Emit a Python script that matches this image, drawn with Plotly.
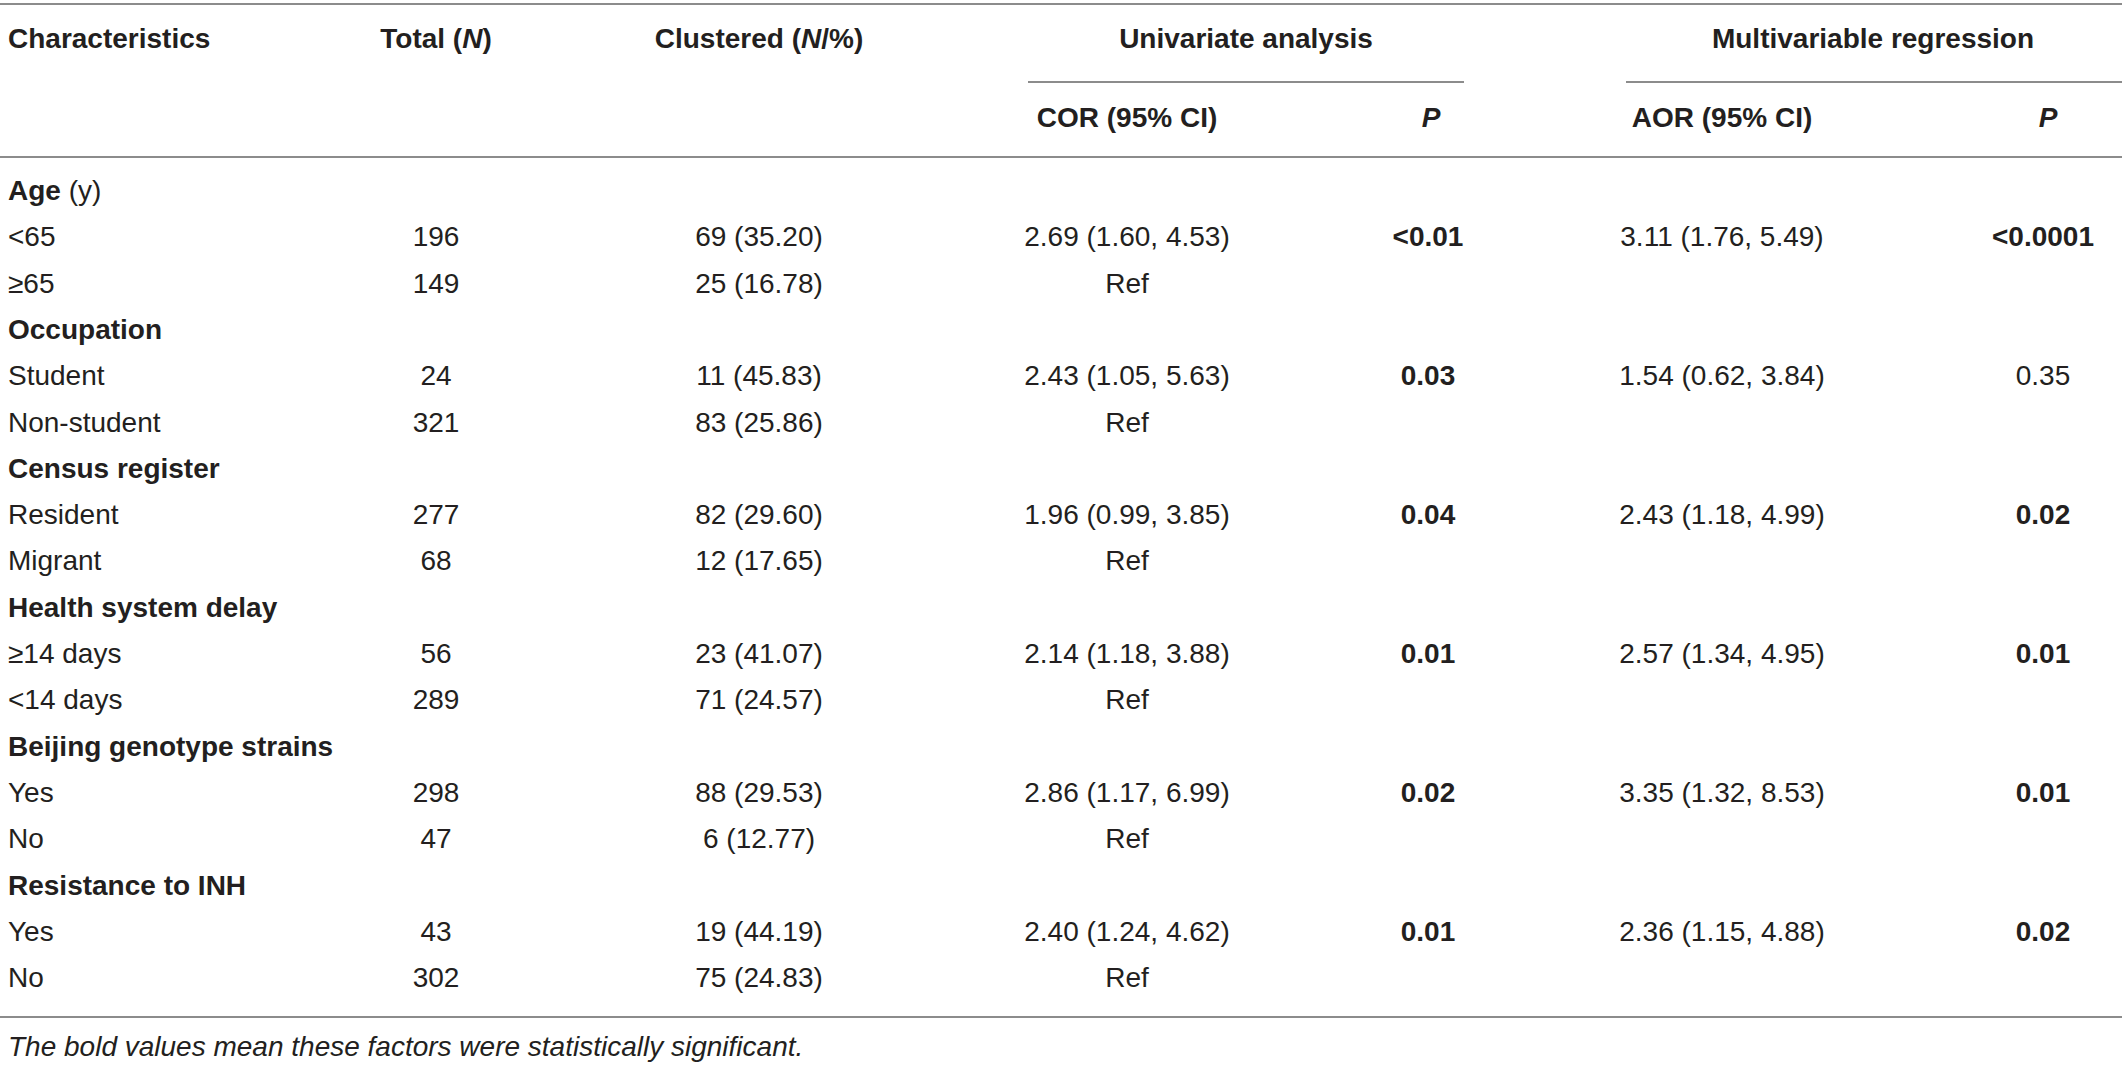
import plotly.graph_objects as go

# table content
groups = ["Age", "Occupation", "Census register", "Health system delay",
          "Beijing genotype strains", "Resistance to INH"]
group_suffix = [" (y)", "", "", "", "", ""]
levels = [["<65", "≥65"], ["Student", "Non-student"], ["Resident", "Migrant"],
          ["≥14 days", "<14 days"], ["Yes", "No"], ["Yes", "No"]]
total_n = [196, 149, 24, 321, 277, 68, 56, 289, 298, 47, 43, 302]
clustered_n = [69, 25, 11, 83, 82, 12, 23, 71, 88, 6, 19, 75]
clustered_pct = [35.20, 16.78, 45.83, 25.86, 29.60, 17.65, 41.07, 24.57,
                 29.53, 12.77, 44.19, 24.83]
cor = [2.69, 2.43, 1.96, 2.14, 2.86, 2.40]
cor_lo = [1.60, 1.05, 0.99, 1.18, 1.17, 1.24]
cor_hi = [4.53, 5.63, 3.85, 3.88, 6.99, 4.62]
p_uni = ["<0.01", "0.03", "0.04", "0.01", "0.02", "0.01"]
aor = [3.11, 1.54, 2.43, 2.57, 3.35, 2.36]
aor_lo = [1.76, 0.62, 1.18, 1.34, 1.32, 1.15]
aor_hi = [5.49, 3.84, 4.99, 4.95, 8.53, 4.88]
p_multi = ["<0.0001", "0.35", "0.02", "0.01", "0.01", "0.02"]
sig_uni = [True, True, True, True, True, True]
sig_multi = [True, False, True, True, True, True]
footnote = "The bold values mean these factors were statistically significant."

# layout (pixels)
W, H = 2122, 1066
FONT = "Liberation Sans, Arial, sans-serif"
TXT = "#231f20"
RULE = "#8c8c8c"
FS = 28
row0, step = 193, 46.3
col_char, col_total, col_clu = 8, 436, 759
col_cor, col_p1, col_aor, col_p2 = 1127, 1428, 1722, 2043

def b(s, on=True):
    return f"<b>{s}</b>" if on else s

# build the body rows
char_txt, tot_txt, clu_txt, cor_txt, p1_txt, aor_txt, p2_txt = [], [], [], [], [], [], []
k = 0
for g, grp in enumerate(groups):
    char_txt.append(b(grp) + group_suffix[g])
    for col in (tot_txt, clu_txt, cor_txt, p1_txt, aor_txt, p2_txt):
        col.append("")
    for j, lev in enumerate(levels[g]):
        char_txt.append(lev.replace("<", "&lt;"))
        tot_txt.append(str(total_n[k]))
        clu_txt.append(f"{clustered_n[k]} ({clustered_pct[k]:.2f})")
        if j == 0:
            cor_txt.append(f"{cor[g]:.2f} ({cor_lo[g]:.2f}, {cor_hi[g]:.2f})")
            p1_txt.append(b(p_uni[g].replace("<", "&lt;"), sig_uni[g]))
            aor_txt.append(f"{aor[g]:.2f} ({aor_lo[g]:.2f}, {aor_hi[g]:.2f})")
            p2_txt.append(b(p_multi[g].replace("<", "&lt;"), sig_multi[g]))
        else:
            cor_txt.append("Ref")
            p1_txt.append("")
            aor_txt.append("")
            p2_txt.append("")
        k += 1

ys = [row0 + i * step for i in range(len(char_txt))]

fig = go.Figure()

def text_col(x, texts, pos="middle center", y=None, size=FS):
    yy = ys if y is None else y
    fig.add_trace(go.Scatter(x=[x] * len(texts), y=yy, text=texts,
                             mode="text", textposition=pos,
                             textfont=dict(family=FONT, size=size, color=TXT),
                             hoverinfo="skip", showlegend=False))

text_col(col_char, char_txt, "middle right")
text_col(col_total, tot_txt)
text_col(col_clu, clu_txt)
text_col(col_cor, cor_txt)
text_col(col_p1, p1_txt)
text_col(col_aor, aor_txt)
text_col(col_p2, p2_txt)

# header
hy1, hy2 = 41, 120
text_col(col_char, [b("Characteristics")], "middle right", [hy1])
text_col(col_total, [b("Total (<i>N</i>)")], y=[hy1])
text_col(col_clu, [b("Clustered (<i>N</i>/%)")], y=[hy1])
text_col(1246, [b("Univariate analysis")], y=[hy1])
text_col(1873, [b("Multivariable regression")], y=[hy1])
text_col(col_cor, [b("COR (95% CI)")], y=[hy2])
text_col(col_p1 + 3, [b("<i>P</i>")], y=[hy2])
text_col(col_aor, [b("AOR (95% CI)")], y=[hy2])
text_col(col_p2 + 5, [b("<i>P</i>")], y=[hy2])

# footnote
text_col(col_char, [f"<i>{footnote}</i>"], "middle right", [1049])

# rules
for x0, x1, y in [(0, W, 4), (1028, 1464, 82), (1626, W, 82), (0, W, 157), (0, W, 1017)]:
    fig.add_shape(type="line", x0=x0, x1=x1, y0=y, y1=y, xref="x", yref="y",
                  line=dict(color=RULE, width=2))

fig.update_xaxes(range=[0, W], visible=False, fixedrange=True)
fig.update_yaxes(range=[H, 0], visible=False, fixedrange=True)
fig.update_layout(width=W, height=H, margin=dict(l=0, r=0, t=0, b=0),
                  plot_bgcolor="white", paper_bgcolor="white")

fig.write_html("out.html", config={"displayModeBar": False},
               post_script="document.body.style.margin='0';")
